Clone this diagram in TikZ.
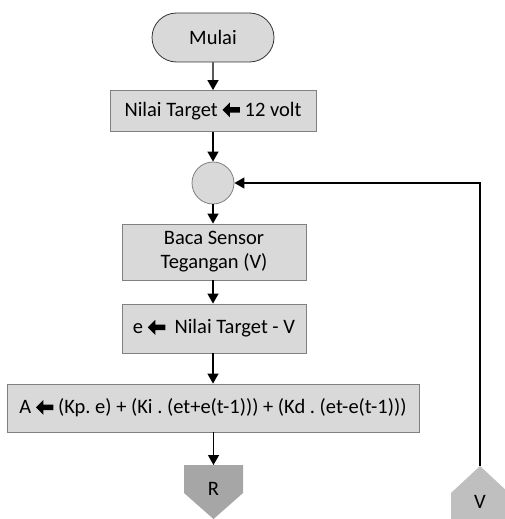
\documentclass[tikz,border=0pt]{standalone}
\usepackage{fontspec}
\setmainfont{Carlito}
\usetikzlibrary{arrows.meta,shapes.misc}
\definecolor{boxfill}{HTML}{D9D9D9}
\definecolor{boxline}{HTML}{808080}
\definecolor{rfill}{HTML}{A6A6A6}
\definecolor{vfill}{HTML}{BFBFBF}
\frenchspacing
\newcommand{\larr}{\tikz[baseline=-6.5pt]\fill (0pt,0pt) -- (7.5pt,7.5pt) -- (7.5pt,2.7pt) -- (17.5pt,2.7pt) -- (17.5pt,-2.7pt) -- (7.5pt,-2.7pt) -- (7.5pt,-7.5pt) -- cycle;}
\begin{document}
\begin{tikzpicture}[x=1pt,y=-1pt,
  every node/.style={font=\fontsize{20.5}{24}\selectfont, inner sep=0pt},
  term/.style={draw=black!80, fill=boxfill, line width=0.8pt, rounded rectangle, minimum width=122pt, minimum height=49pt},
  proc/.style={draw=boxline, fill=boxfill, line width=0.8pt, rectangle, align=center},
  joint/.style={draw=boxline, fill=boxfill, line width=0.8pt, circle, minimum size=42pt},
  flow/.style={line width=1.3pt, -{Triangle[length=10pt,width=11pt]}}]
\useasboundingbox (0,0) rectangle (505,519);
\node[term] (mulai) at (213,37.5) {Mulai};
\node[proc, minimum width=206pt, minimum height=41pt] (target) at (213,111) {Nilai Target \larr{} 12 volt};
\node[joint] (c) at (213,183) {};
\node[proc, minimum width=184pt, minimum height=56pt] (baca) at (214,252) {Baca Sensor\\Tegangan (V)};
\node[proc, minimum width=184pt, minimum height=49pt] (err) at (214,328.5) {e \larr\ \ Nilai Target - V};
\node[proc, minimum width=412pt, minimum height=48pt] (pid) at (213,408) {A \larr{} (Kp. e) + (Ki . (et+e(t-1))) + (Kd . (et-e(t-1)))};
% off-page connector R
\fill[rfill] (184,465) -- (243,465) -- (243,493) -- (213.5,519) -- (184,493) -- cycle;
\node (R) at (213.5,489) {R};
\coordinate (rtop) at (213.5,465);
% off-page connector V
\fill[vfill] (451,519) -- (451,493) -- (480,466) -- (509,493) -- (509,519) -- cycle;
\node (V) at (480,502) {V};
\coordinate (vtop) at (480,466);
% connectors
\draw[flow] (mulai) -- (target);
\draw[flow] (target) -- (c);
\draw[flow] (c) -- (c |- baca.north);
\draw[flow] (baca.south -| c) -- (c |- err.north);
\draw[flow] (err.south -| c) -- (pid);
\draw[flow] (pid.south -| rtop) -- (rtop);
\draw[flow] (vtop) |- (c.east);
\end{tikzpicture}
\end{document}
